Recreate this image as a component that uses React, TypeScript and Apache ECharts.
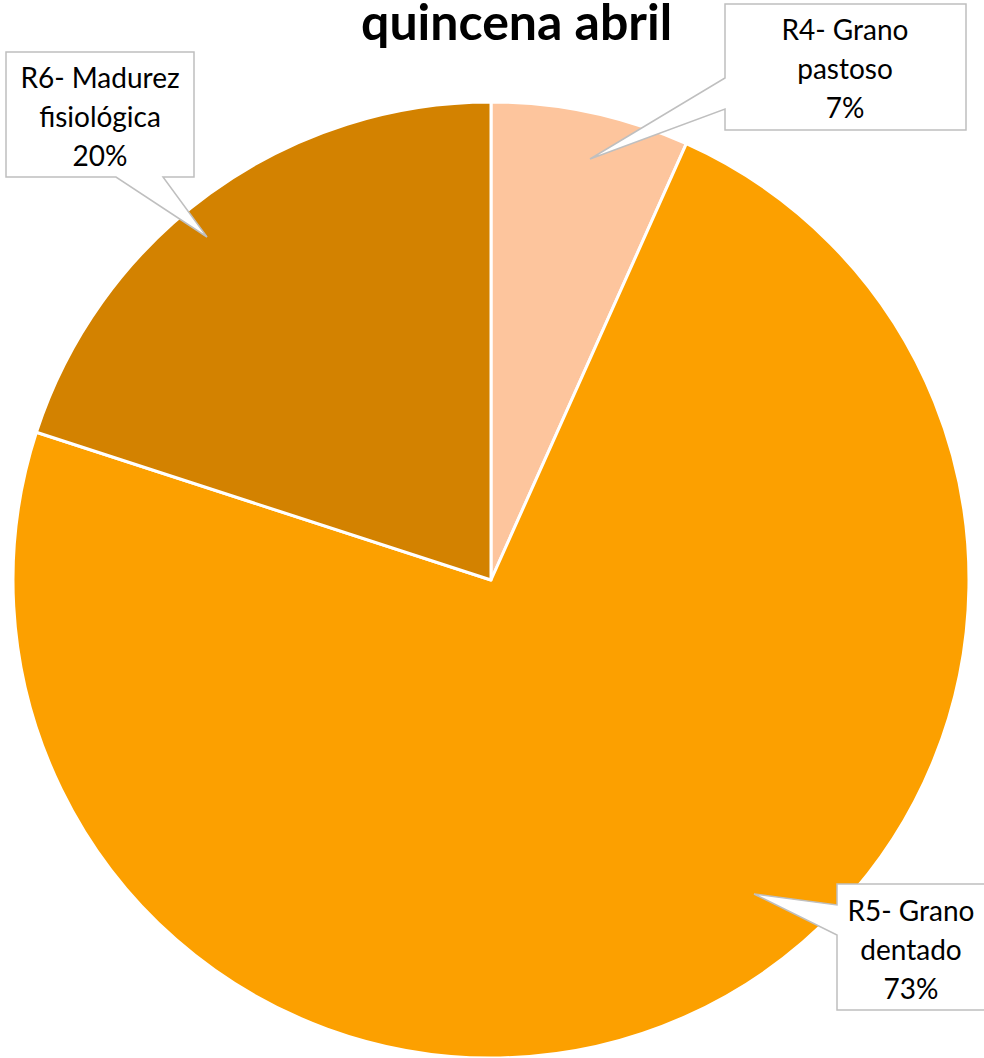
import React, { useEffect, useRef } from "react";
import * as echarts from "echarts";

const categories = ["R4- Grano pastoso", "R5- Grano dentado", "R6- Madurez fisiológica"];
const labelLines = [["R4- Grano", "pastoso"], ["R5- Grano", "dentado"], ["R6- Madurez", "fisiológica"]];
const values = [6.7, 73.3, 20];
const colors = ["#FDC59D", "#FCA000", "#D38200"];
const titleText = "quincena abril";

// callout boxes (annotation layout): box rect + pointer tip + pointer base
const callouts = [
  { points: [[725, 4], [966, 4], [966, 130], [725, 130], [725, 109], [590, 159], [725, 78]], cx: 845, cy: 68 },
  { points: [[837, 884], [988, 884], [988, 1010], [837, 1010], [837, 935], [754, 894], [837, 905]], cx: 911, cy: 949 },
  { points: [[6, 52], [194, 52], [194, 177], [163, 177], [207, 237], [116, 177], [6, 177]], cx: 100, cy: 116 },
];

export default function App() {
  const ref = useRef<HTMLDivElement>(null);
  useEffect(() => {
    document.body.style.margin = "0";
    const chart = echarts.init(ref.current!, null, { renderer: "svg" });
    const total = values.reduce((a, b) => a + b, 0);
    const font = "Lato, 'Open Sans', sans-serif";
    const graphics: any[] = [];
    callouts.forEach((c, i) => {
      graphics.push({
        type: "polygon",
        z: 10,
        shape: { points: c.points },
        style: { fill: "#fff", stroke: "#BFBFBF", lineWidth: 1.5 },
      });
      const pct = Math.round((values[i] / total) * 100);
      graphics.push({
        type: "text",
        z: 11,
        x: c.cx,
        y: c.cy,
        style: {
          text: `${labelLines[i][0]}\n${labelLines[i][1]}\n${pct}%`,
          fill: "#000",
          font: `28px ${font}`,
          lineHeight: 39,
          align: "center",
          verticalAlign: "middle",
        },
      });
    });
    chart.setOption({
      animation: false,
      title: {
        text: titleText,
        left: 356,
        top: -9,
        textStyle: { fontSize: 50, fontWeight: "bold", fontFamily: font, color: "#000", lineHeight: 50 },
      },
      graphic: graphics,
      series: [
        {
          type: "pie",
          z: 2,
          center: [491, 580],
          radius: 478,
          startAngle: 90,
          clockwise: true,
          label: { show: false },
          labelLine: { show: false },
          itemStyle: { borderColor: "#fff", borderWidth: 3 },
          data: categories.map((n, i) => ({ name: n, value: values[i], itemStyle: { color: colors[i] } })),
        },
      ],
    });
    return () => chart.dispose();
  }, []);
  return <div ref={ref} style={{ width: 984, height: 1058 }} />;
}
